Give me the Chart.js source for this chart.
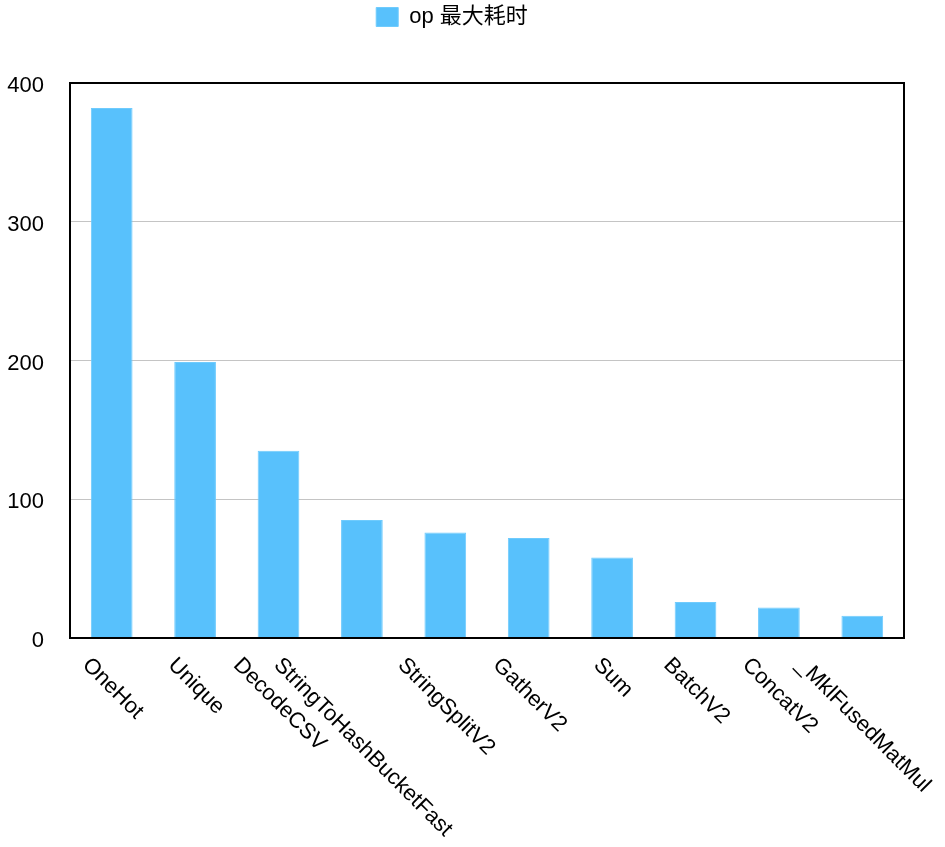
<!DOCTYPE html>
<html>
<head>
<meta charset="utf-8">
<script src="https://cdn.jsdelivr.net/npm/chart.js@4"></script>
<style>
  html, body { margin: 0; padding: 0; background: #ffffff; }
  #wrap { width: 945px; height: 847px; position: relative; }
</style>
</head>
<body>
<div id="wrap"><canvas id="c" width="945" height="847"></canvas></div>
<script>
// ---- data ----
const categories = ["OneHot", "Unique", "DecodeCSV", "StringToHashBucketFast", "StringSplitV2", "GatherV2", "Sum", "BatchV2", "ConcatV2", "_MklFusedMatMul"];
const seriesName = "op 最大耗时";
const seriesValues = [382, 199, 135, 85, 76, 72, 58, 26, 22, 16];
const yTicks = [0, 100, 200, 300, 400];

const FONT = '"Liberation Sans", Arial, Helvetica, "Noto Sans CJK SC", sans-serif';

// extra space under the legend
const legendSpacer = {
  id: 'legendSpacer',
  beforeInit(chart) {
    const origFit = chart.legend.fit;
    chart.legend.fit = function () {
      origFit.bind(chart.legend)();
      this.height += 45;
    };
  }
};

// frame around plot area
const frame = {
  id: 'frame',
  afterDatasetsDraw(chart) {
    const a = chart.chartArea, ctx = chart.ctx;
    ctx.save();
    ctx.strokeStyle = '#000000';
    ctx.lineWidth = 2;
    ctx.strokeRect(a.left, a.top, a.right - a.left, a.bottom - a.top);
    ctx.restore();
  }
};

// rotated category labels (text runs down-right, centered on the tick)
const rotatedLabels = {
  id: 'rotatedLabels',
  afterDraw(chart) {
    const xs = chart.scales.x, ctx = chart.ctx;
    const labels = chart.data.labels;
    ctx.save();
    ctx.font = '22px ' + FONT;
    ctx.fillStyle = '#000000';
    ctx.textAlign = 'center';
    ctx.textBaseline = 'middle';
    labels.forEach((lab, i) => {
      const x = xs.getPixelForValue(i) + 1;
      const w = ctx.measureText(lab).width;
      const yc = chart.chartArea.bottom + 18 + 0.7071 * (w / 2 + 8);
      ctx.save();
      ctx.translate(x, yc);
      ctx.rotate(Math.PI / 4);
      ctx.fillText(lab, 0, 0);
      ctx.restore();
    });
    ctx.restore();
  }
};

new Chart(document.getElementById('c'), {
  type: 'bar',
  data: {
    labels: categories,
    datasets: [{
      label: seriesName,
      data: seriesValues,
      backgroundColor: '#58C1FC',
      borderColor: '#6FCBFD',
      borderWidth: 1,
      barPercentage: 0.5,
      categoryPercentage: 1.0
    }]
  },
  options: {
    responsive: false,
    animation: false,
    devicePixelRatio: 1,
    layout: { padding: { left: 0, right: 41, top: 0, bottom: 0 } },
    plugins: {
      legend: {
        display: true,
        position: 'top',
        align: 'center',
        labels: {
          boxWidth: 22,
          boxHeight: 19,
          padding: 6,
          color: '#000000',
          font: { size: 22, family: FONT }
        }
      },
      tooltip: { enabled: false }
    },
    scales: {
      x: {
        type: 'category',
        offset: true,
        grid: { display: false, drawTicks: false },
        border: { display: false },
        ticks: { display: false },
        afterFit(scale) { scale.height = 209; }
      },
      y: {
        min: 0,
        max: 400,
        afterBuildTicks(scale) { scale.ticks = yTicks.map(v => ({ value: v })); },
        grid: { color: '#c4c4c4', lineWidth: 1, drawTicks: false },
        border: { display: false },
        ticks: {
          padding: 26,
          labelOffset: 3,
          color: '#000000',
          font: { size: 22, family: FONT }
        },
        afterFit(scale) { scale.width = 70; }
      }
    }
  },
  plugins: [legendSpacer, frame, rotatedLabels]
});
</script>
</body>
</html>
